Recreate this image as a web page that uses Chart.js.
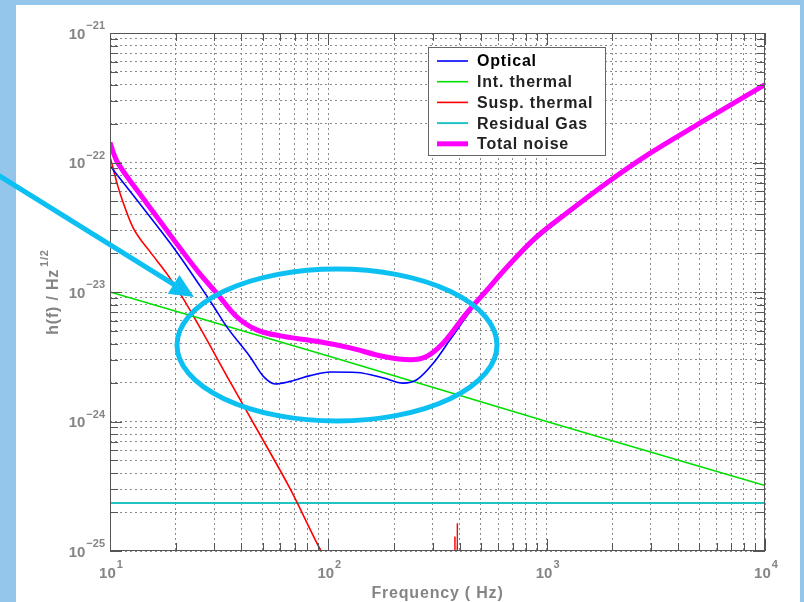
<!DOCTYPE html>
<html>
<head>
<meta charset="utf-8">
<script src="https://cdn.jsdelivr.net/npm/chart.js@4"></script>
<style>
  html, body { margin: 0; padding: 0; background: #93c6ea; }
  canvas { display: block; }
</style>
</head>
<body>
<canvas id="noiseChart" width="804" height="602"></canvas>
<script>
// strain noise curves (frequency in Hz, h in 1/sqrt(Hz))
var opticalFreq = [10, 12.8, 19.86, 25.8, 29.6, 34.2, 43.7, 50.4, 57, 66.8, 82.5, 102, 135, 179, 220, 254, 303, 361, 479, 612, 871, 1236, 1884, 2979, 5047, 10000];
var opticalH = [9.44e-23, 5.55e-23, 2.12e-23, 1.12e-23, 7.9e-24, 5.4e-24, 3.18e-24, 2.23e-24, 1.95e-24, 2.04e-24, 2.26e-24, 2.41e-24, 2.39e-24, 2.17e-24, 1.98e-24, 2.1e-24, 2.83e-24, 4.28e-24, 8.3e-24, 1.33e-23, 2.45e-23, 3.95e-23, 6.8e-23, 1.16e-22, 2.0e-22, 3.95e-22];

var intThermalFreq = [10, 100, 1000, 10000];
var intThermalH = [1.0e-23, 3.2e-24, 1.0e-24, 3.2e-25];

var suspThermalFreq = [10, 10.16, 10.32, 10.77, 11.35, 12.75, 15.25, 18.24, 21.37, 25.84, 35.45, 48.66, 66.8, 92.6, 150, 378, 380, 384, 390, 393, 400];
var suspThermalH = [1.11e-22, 1.0e-22, 9.1e-23, 6.9e-23, 5.2e-23, 3.14e-23, 2.05e-23, 1.38e-23, 9.2e-24, 5.3e-24, 2.03e-24, 7.9e-25, 3.03e-25, 1.0e-25, 2.4e-26, 1e-27, 1.3e-25, 1e-27, 1.65e-25, 1e-27, 1e-27];

var residualGasFreq = [10, 10000];
var residualGasH = [2.35e-25, 2.35e-25];

var totalFreq = [10, 10.32, 10.73, 11.11, 14.73, 19.5, 25.8, 30.8, 37.8, 47, 62.2, 88.5, 126, 179, 237, 282, 336, 431, 550, 612, 871, 1236, 1884, 2979, 5047, 10000];
var totalH = [1.43e-22, 1.21e-22, 1.03e-22, 9.33e-23, 4.85e-23, 2.56e-23, 1.38e-23, 9.8e-24, 6.5e-24, 5.1e-24, 4.54e-24, 4.16e-24, 3.7e-24, 3.18e-24, 3.0e-24, 3.18e-24, 4.04e-24, 6.9e-24, 1.1e-23, 1.36e-23, 2.54e-23, 4.07e-23, 6.95e-23, 1.18e-22, 2.02e-22, 4.0e-22];

var seriesNames = ["Optical", "Int. thermal", "Susp. thermal", "Residual Gas", "Total noise"];
var seriesColors = ["#0000ff", "#00e000", "#ff0000", "#20c4c4", "#ff00ff"];

// decade exponents for the tick labels
var xTickExp = [1, 2, 3, 4];
var yTickExp = [-25, -24, -23, -22, -21];

var xTitle = "Frequency ( Hz)";
var yTitle = "h(f) / Hz";
var yTitleSup = "1/2";

function toPoints(freqs, values) {
  return freqs.map(function (f, i) { return { x: f, y: values[i] }; });
}

// 1..9 x 10^e grid positions
function decadeSteps(lowExp, highExp) {
  var out = [];
  for (var e = lowExp; e < highExp; e++) {
    for (var m = 1; m < 10; m++) out.push(m * Math.pow(10, e));
  }
  out.push(Math.pow(10, highExp));
  return out;
}

function isDecade(v) {
  var l = Math.log10(v);
  return Math.abs(l - Math.round(l)) < 1e-9;
}

var FONT = "'Liberation Sans', Arial, sans-serif";
var LABEL_GRAY = "#858585";

function drawPower(ctx, exp, x, yMid, align) {
  var sup = String(exp).replace("-", "\u2212");
  ctx.font = "bold 15px " + FONT;
  var wBase = ctx.measureText("10").width;
  ctx.font = "bold 11px " + FONT;
  var wSup = ctx.measureText(sup).width;
  var total = wBase + wSup + 1;
  var left = align === "center" ? x - total / 2 : x - total;
  ctx.textAlign = "left";
  ctx.textBaseline = "alphabetic";
  ctx.fillStyle = LABEL_GRAY;
  ctx.font = "bold 15px " + FONT;
  ctx.fillText("10", left, yMid + 5.5);
  ctx.font = "bold 11px " + FONT;
  ctx.fillText(sup, left + wBase + 1, yMid - 4);
}

var decor = {
  id: "decor",
  beforeDraw: function (chart) {
    var ctx = chart.ctx;
    ctx.save();
    ctx.fillStyle = "#93c6ea";
    ctx.fillRect(0, 0, chart.width, chart.height);
    ctx.fillStyle = "#ffffff";
    ctx.fillRect(16, 5, 784, 597);
    ctx.restore();
  },
  afterDraw: function (chart) {
    var ctx = chart.ctx;
    var a = chart.chartArea;
    var xs = chart.scales.x, ys = chart.scales.y;
    ctx.save();

    // inside tick marks on all four sides
    ctx.strokeStyle = "#555";
    ctx.lineWidth = 1;
    ctx.setLineDash([]);
    ctx.beginPath();
    xs.ticks.forEach(function (t) {
      var px = Math.round(xs.getPixelForValue(t.value)) + 0.5;
      var len = isDecade(t.value) ? 12 : 8;
      ctx.moveTo(px, a.bottom); ctx.lineTo(px, a.bottom - len);
      ctx.moveTo(px, a.top); ctx.lineTo(px, a.top + len);
    });
    ys.ticks.forEach(function (t) {
      var py = Math.round(ys.getPixelForValue(t.value)) + 0.5;
      var len = isDecade(t.value) ? 12 : 8;
      ctx.moveTo(a.left, py); ctx.lineTo(a.left + len, py);
      ctx.moveTo(a.right, py); ctx.lineTo(a.right - len, py);
    });
    ctx.stroke();
    ctx.strokeRect(a.left + 0.5, a.top + 0.5, a.right - a.left - 1, a.bottom - a.top - 1);

    // tick labels
    xTickExp.forEach(function (e) {
      drawPower(ctx, e, xs.getPixelForValue(Math.pow(10, e)) + 1, 572, "center");
    });
    yTickExp.forEach(function (e) {
      drawPower(ctx, e, 105, ys.getPixelForValue(Math.pow(10, e)), "right");
    });

    // axis titles
    ctx.fillStyle = LABEL_GRAY;
    ctx.letterSpacing = "0.8px";
    ctx.font = "bold 16px " + FONT;
    ctx.textAlign = "center";
    ctx.fillText(xTitle, (a.left + a.right) / 2, 597.5);

    ctx.save();
    ctx.translate(52, (a.top + a.bottom) / 2);
    ctx.rotate(-Math.PI / 2);
    ctx.font = "bold 16px " + FONT;
    var w1 = ctx.measureText(yTitle).width;
    ctx.font = "bold 11px " + FONT;
    var w2 = ctx.measureText(yTitleSup).width;
    var start = -(w1 + w2 + 2) / 2;
    ctx.textAlign = "left";
    ctx.font = "bold 16px " + FONT;
    ctx.fillText(yTitle, start, 6);
    ctx.font = "bold 11px " + FONT;
    ctx.fillText(yTitleSup, start + w1 + 2, -4);
    ctx.restore();

    // legend box
    ctx.fillStyle = "#ffffff";
    ctx.fillRect(428, 47, 177, 108);
    ctx.strokeStyle = "#666";
    ctx.strokeRect(428.5, 47.5, 177, 108);
    ctx.font = "bold 16px " + FONT;
    ctx.textAlign = "left";
    ctx.textBaseline = "middle";
    chart.data.datasets.forEach(function (ds, i) {
      var y = 61 + i * 20.7;
      ctx.strokeStyle = ds.borderColor;
      ctx.lineWidth = ds.borderWidth;
      ctx.beginPath();
      ctx.moveTo(437, y); ctx.lineTo(468, y);
      ctx.stroke();
      ctx.fillStyle = i === 0 ? "#000" : "#222";
      ctx.fillText(ds.label, 477, y + 1);
    });
    ctx.letterSpacing = "0px";

    // cyan annotation: arrow and ellipse
    ctx.strokeStyle = "#0cc0f2";
    ctx.fillStyle = "#0cc0f2";
    ctx.lineWidth = 5;
    ctx.lineCap = "butt";
    var tipX = 194, tipY = 297, fromX = -2, fromY = 175;
    var dx = tipX - fromX, dy = tipY - fromY, len = Math.sqrt(dx * dx + dy * dy);
    var ux = dx / len, uy = dy / len;
    var bx = tipX - 24 * ux, by = tipY - 24 * uy;
    ctx.beginPath();
    ctx.moveTo(fromX, fromY); ctx.lineTo(bx + 2 * ux, by + 2 * uy);
    ctx.stroke();
    ctx.beginPath();
    ctx.moveTo(tipX, tipY);
    ctx.lineTo(bx - 11 * uy, by + 11 * ux);
    ctx.lineTo(bx + 11 * uy, by - 11 * ux);
    ctx.closePath();
    ctx.fill();
    ctx.beginPath();
    ctx.ellipse(337, 345, 160, 76, 0, 0, Math.PI * 2);
    ctx.stroke();

    ctx.restore();
  }
};

var freqs = [opticalFreq, intThermalFreq, suspThermalFreq, residualGasFreq, totalFreq];
var values = [opticalH, intThermalH, suspThermalH, residualGasH, totalH];
var widths = [1.6, 1.6, 1.6, 2, 5];

var datasets = seriesNames.map(function (name, i) {
  return {
    label: name,
    data: toPoints(freqs[i], values[i]),
    borderColor: seriesColors[i],
    backgroundColor: seriesColors[i],
    borderWidth: widths[i],
    pointRadius: 0,
    cubicInterpolationMode: "monotone",
    order: i === 4 ? 0 : 1
  };
});

function logAxis(lowExp, highExp, fit) {
  return {
    type: "logarithmic",
    min: Math.pow(10, lowExp),
    max: Math.pow(10, highExp),
    afterBuildTicks: function (s) {
      s.ticks = decadeSteps(lowExp, highExp).map(function (v) { return { value: v }; });
    },
    afterFit: fit,
    ticks: { display: false },
    grid: { color: "#8a8a8a", lineWidth: 1, drawTicks: false },
    border: { display: false, dash: [2, 3] }
  };
}

new Chart(document.getElementById("noiseChart"), {
  type: "line",
  data: { datasets: datasets },
  options: {
    responsive: false,
    animation: false,
    events: [],
    layout: { padding: { top: 33, right: 39, left: 0, bottom: 0 } },
    scales: {
      x: logAxis(1, 4, function (s) { s.height = 51; }),
      y: logAxis(-25, -21, function (s) { s.width = 110; })
    },
    plugins: {
      legend: { display: false },
      tooltip: { enabled: false }
    }
  },
  plugins: [decor]
});
</script>
</body>
</html>
